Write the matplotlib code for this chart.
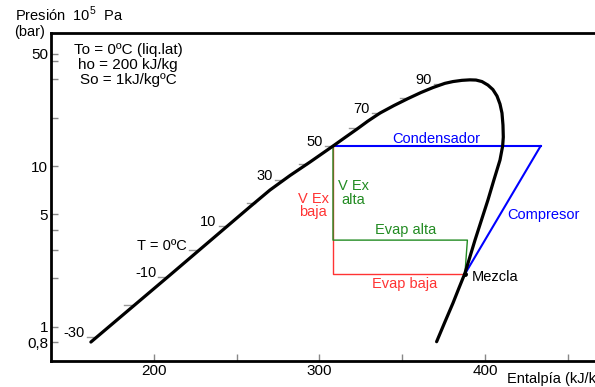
import numpy as np
import matplotlib
matplotlib.use("Agg")
import matplotlib.pyplot as plt

plt.rcParams['font.family'] = ['Liberation Sans', 'DejaVu Sans']
plt.rcParams['mathtext.fontset'] = 'custom'
plt.rcParams['mathtext.rm'] = 'Liberation Sans'

# Curva de saturacion (h en kJ/kg, p en bar)
h_sat = [161.9, 209.7, 258.0, 270.1, 282.2, 294.3, 308.2, 315.4, 322.7, 329.3,
         336.6, 345.0, 353.5, 361.3, 368.6, 375.8, 380.7, 386.1, 390.9, 394.6,
         398.2, 401.8, 404.8, 407.3, 409.1, 410.3, 410.9, 411.1, 410.7, 409.1,
         405.4, 401.8, 397.9, 394.0, 390.9, 387.9, 384.3, 380.7, 375.8, 370.8]
p_sat = [0.803, 2.097, 5.574, 7.091, 8.730, 10.59, 13.32, 15.04, 16.99, 19.05,
         21.37, 23.79, 26.30, 28.67, 30.80, 32.71, 33.56, 34.15, 34.39, 34.29,
         33.56, 31.91, 29.93, 27.27, 24.31, 21.37, 17.99, 15.15, 13.32, 10.90,
         8.18, 6.14, 4.61, 3.46, 2.715, 2.149, 1.741, 1.404, 1.070, 0.807]

# Marcas de temperatura sobre la linea de liquido
temp_h = [164.4, 186.8, 207.5, 225.8, 244.0, 261.0, 278.2, 292.6, 308.2, 322.7, 336.6, 353.5, 374.0]
temp_p = [0.863, 1.365, 2.04, 3.0, 4.23, 5.88, 8.22, 10.27, 13.3, 17.2, 21.5, 26.4, 32.6]
temp_txt = ['-30', '', '-10', 'T = 0ºC', '10', '', '30', '', '50', '', '70', '', '90']

# Ciclo
h_cond = [308.2, 433.6]
p_alta = 13.3
h_comp = [433.6, 387.9]
p_baja = 2.13
p_evap_alta = 3.46
h_evap_alta = 389.4
h_valv = 308.2
h_mezcla = 387.9

fig = plt.figure(figsize=(5.95, 3.87), dpi=100)
ax = fig.add_axes([51/595, 26/387, 566/595, 328/387])
ax.set_yscale('log')
ax.set_xlim(137.8, 479.8)
ax.set_ylim(0.612, 67.3)

ax.plot(h_sat, p_sat, color='black', lw=2.3, solid_capstyle='round',
        solid_joinstyle='round', zorder=4)

for h, p, t in zip(temp_h, temp_p, temp_txt):
    ax.plot([h - 4.8, h], [p, p], color='#999999', lw=1, zorder=2)
    if t:
        ax.annotate(t, xy=(h - 4.8, p), xytext=(-1.5, 0), textcoords='offset points',
                    ha='right', va='baseline', fontsize=10.5)

red = '#ff3333'
green = '#228b22'
blue = '#0000ff'

# evaporador baja
ax.plot([h_valv, h_valv, h_mezcla], [p_alta, p_baja, p_baja], color=red, lw=1, zorder=3)
# evaporador alta
ax.plot([h_valv, h_valv, h_evap_alta, h_mezcla], [p_alta, p_evap_alta, p_evap_alta, p_baja],
        color=green, lw=1, zorder=3)
# condensador y compresor
ax.plot(h_cond, [p_alta, p_alta], color=blue, lw=1.5, zorder=3)
ax.plot(h_comp, [p_alta, p_baja], color=blue, lw=1.5, zorder=3)
ax.plot([h_mezcla], [p_baja], 'o', color='black', ms=2.5, zorder=5)

ax.text(370.3, 14.0, 'Condensador', color=blue, ha='center', va='baseline', fontsize=10.5)
ax.text(435.3, 4.66, 'Compresor', color=blue, ha='center', va='baseline', fontsize=10.5)
ax.text(296.3, 6.92, 'V Ex\nbaja', color=red, ha='center', va='top', fontsize=10.5, linespacing=0.95)
ax.text(320.7, 8.26, 'V Ex\nalta', color=green, ha='center', va='top', fontsize=10.5, linespacing=0.95)
ax.text(352.2, 3.77, 'Evap alta', color=green, ha='center', va='baseline', fontsize=10.5)
ax.text(351.7, 1.73, 'Evap baja', color=red, ha='center', va='baseline', fontsize=10.5)
ax.text(392.0, 2.05, 'Mezcla', color='black', ha='left', va='center', fontsize=10.5)

# ejes
yt = [0.8, 1, 2, 3, 4, 5, 10, 20, 35, 45, 50]
ylab = {0.8: '0,8', 1: '1', 5: '5', 10: '10', 50: '50'}
ax.set_yticks(yt)
ax.set_yticklabels([ylab.get(v, '') for v in yt])
ax.minorticks_off()
ax.set_xticks([200, 300, 400])
ax.set_xticklabels(['200', '300', '400'])
ax.set_xticks([250, 350, 450], minor=True)
ax.tick_params(which='both', direction='in', length=5, width=1, color='#888888',
               labelsize=11, pad=2)
for s in ax.spines.values():
    s.set_linewidth(2)

fig.text(15/595, 1 - 21/387, 'Presión  10$^{5}$  Pa', fontsize=10.5, va='baseline')
fig.text(14/595, 1 - 36/387, '(bar)', fontsize=10.5, va='baseline')
fig.text(128/595, 1 - 43/387, 'To = 0ºC (liq.lat)\nho = 200 kJ/kg\nSo = 1kJ/kgºC',
         ha='center', va='top', fontsize=11, linespacing=1.08, multialignment='center')
fig.text(507/595, 1 - 383/387, 'Entalpía (kJ/kg)', fontsize=10.5, va='baseline')

fig.savefig('out.png', dpi=100)
